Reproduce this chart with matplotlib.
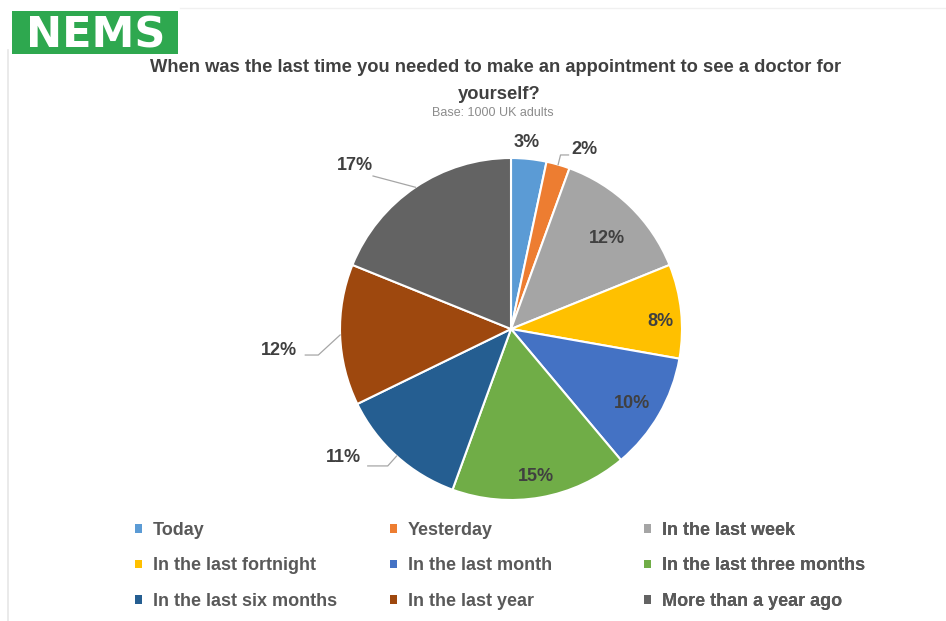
import matplotlib
matplotlib.use("Agg")
import matplotlib.pyplot as plt
import numpy as np
from matplotlib.patches import Rectangle

categories = ["Today", "Yesterday", "In the last week", "In the last fortnight",
              "In the last month", "In the last three months", "In the last six months",
              "In the last year", "More than a year ago"]
values = [3, 2, 12, 8, 10, 15, 11, 12, 17]
labels = ["3%", "2%", "12%", "8%", "10%", "15%", "11%", "12%", "17%"]
colors = ["#5B9BD5", "#ED7D31", "#A5A5A5", "#FFC000", "#4472C4",
          "#70AD47", "#255E91", "#9E480E", "#636363"]

title_line1 = "When was the last time you needed to make an appointment to see a doctor for"
title_line2 = "yourself?"
subtitle = "Base: 1000 UK adults"

W, H = 946, 621
fig = plt.figure(figsize=(W / 100, H / 100), dpi=100)
ax = fig.add_axes([0, 0, 1, 1])

cx, cy, R = 511, H - 329, 171
wedges, _ = ax.pie(values, colors=colors, startangle=90, counterclock=False,
                   center=(cx, cy), radius=R,
                   wedgeprops=dict(edgecolor="white", linewidth=1.5))
ax.set_xlim(0, W)
ax.set_ylim(0, H)
ax.set_aspect("equal")
ax.axis("off")

# label placement (offset from pie centre, in units of radius)
label_off = [(0.09, 1.09), (0.43, 1.047), (0.56, 0.532), (0.871, 0.041),
             (0.708, -0.433), (0.146, -0.86), (-0.978, -0.754), (-1.355, -0.123),
             (-0.912, 0.959)]
# leader lines: (start offset from label centre in px, horizontal elbow length px) or None
leaders = [None, ((-16, -5), 8), None, None, None, None,
           ((24, -8), 20), ((26, -5), 13), ((18, -11), 0)]

total = sum(values)
cum = np.cumsum([0] + values[:-1])
for i, lab in enumerate(labels):
    tx = cx + label_off[i][0] * R
    ty = cy + label_off[i][1] * R
    ax.text(tx, ty, lab, ha="center", va="center", fontsize=13,
            fontweight="bold", color="#404040", family="Liberation Sans")
    if leaders[i] is not None:
        (ox, oy), elbow = leaders[i]
        mid = (cum[i] + values[i] / 2) / total * 360.0
        ang = np.deg2rad(90 - mid)
        ex, ey = cx + R * np.cos(ang), cy + R * np.sin(ang)
        sx, sy = tx + ox, ty + oy
        dirn = 1 if ex > sx else -1
        ax.plot([sx, sx + dirn * elbow, ex], [sy, sy, ey], color="#A6A6A6", lw=0.9)

# logo
ax.add_patch(Rectangle((12, H - 54), 166, 43, facecolor="#2EA84F", edgecolor="none"))
ax.text(96, H - 48, "NEMS", ha="center", va="baseline", fontsize=31,
        fontweight="bold", color="white", family="DejaVu Sans")

# frame lines
ax.plot([8, 8], [0, H - 50], color="#E6E6E6", lw=1.2)
ax.plot([180, W], [H - 8, H - 8], color="#F0F0F0", lw=1.0)

# titles
ax.text(496, H - 72, title_line1, ha="center", va="baseline", fontsize=13.2,
        fontweight="bold", color="#404040", family="Liberation Sans")
ax.text(499, H - 99, title_line2, ha="center", va="baseline", fontsize=13.2,
        fontweight="bold", color="#404040", family="Liberation Sans")
ax.text(493, H - 113, subtitle, ha="center", va="center", fontsize=9,
        color="#8C8C8C", family="Liberation Sans")

# legend: three columns
col_x = [135, 390, 644]
for c in range(3):
    idx = [c, c + 3, c + 6]
    leg = ax.legend([wedges[i] for i in idx], [categories[i] for i in idx],
                    loc="upper left", bbox_to_anchor=(col_x[c], H - 522),
                    bbox_transform=ax.transData, frameon=False,
                    handlelength=0.36, handleheight=0.36, handletextpad=0.62,
                    labelspacing=1.02, borderpad=0, borderaxespad=0,
                    prop=dict(family="Liberation Sans", size=13, weight="bold"),
                    labelcolor="#595959")
    for h in leg.legend_handles:
        h.set_edgecolor("none")
    ax.add_artist(leg)

fig.savefig("out.png", dpi=100, facecolor="white")
